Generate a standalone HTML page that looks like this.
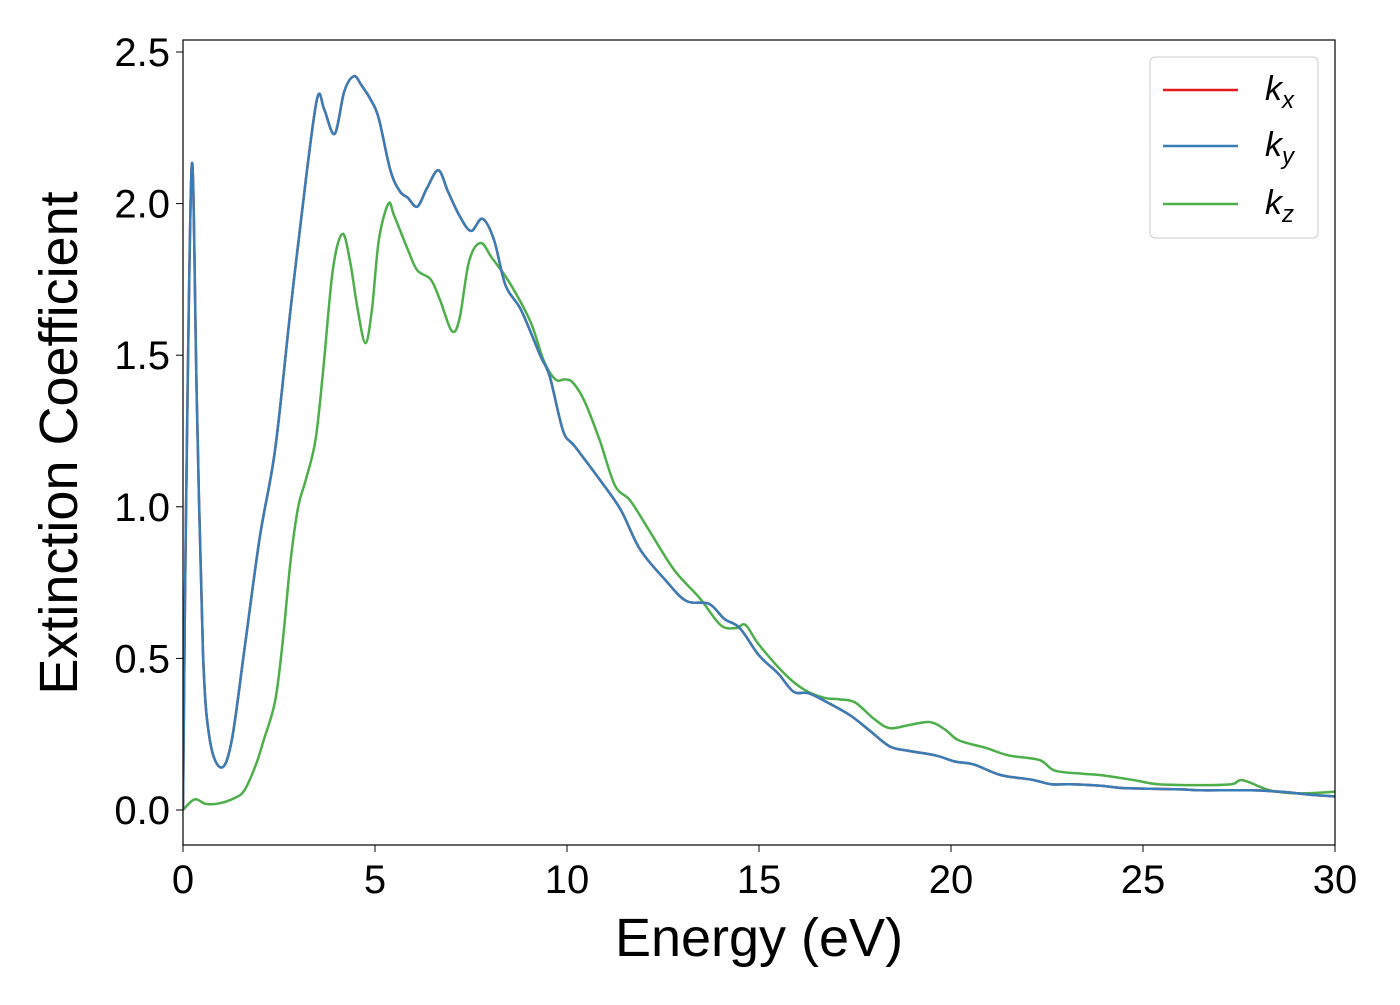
<!DOCTYPE html>
<html><head><meta charset="utf-8"><style>
body{margin:0;background:#fff}
svg{font-family:"Liberation Sans","DejaVu Sans",sans-serif}
</style></head><body>
<svg id="chart" width="1400" height="1000" xmlns="http://www.w3.org/2000/svg">
<defs><clipPath id="cp"><rect x="183" y="40" width="1152" height="805"/></clipPath></defs>
<g id="plot"></g>
</svg>
<script>
const xs1=[0,0.08,0.23,0.36,0.52,0.7,1.0,1.27,1.6,2.0,2.4,2.8,3.2,3.5,3.68,3.95,4.2,4.45,4.65,4.9,5.1,5.4,5.65,5.85,6.1,6.35,6.65,6.9,7.2,7.5,7.8,8.1,8.4,8.8,9.3,9.55,9.9,10.2,10.85,11.4,11.9,12.55,13.1,13.7,14.1,14.5,15.0,15.5,15.9,16.3,16.85,17.4,17.9,18.4,18.9,19.6,20.1,20.6,21.3,22.1,22.6,23.1,23.9,24.4,25.2,26,26.5,27.8,28.6,29.4,30];
const kxy=[0,1.0,2.13,1.35,0.52,0.23,0.14,0.23,0.53,0.9,1.19,1.65,2.08,2.35,2.31,2.23,2.37,2.42,2.39,2.34,2.28,2.11,2.04,2.02,1.99,2.05,2.11,2.04,1.96,1.91,1.95,1.88,1.73,1.65,1.5,1.43,1.25,1.2,1.09,0.99,0.86,0.76,0.69,0.68,0.63,0.6,0.51,0.45,0.39,0.385,0.35,0.31,0.26,0.21,0.195,0.18,0.16,0.15,0.115,0.1,0.085,0.085,0.08,0.073,0.07,0.068,0.065,0.065,0.06,0.05,0.045];
const xs2=[0,0.3,0.6,0.95,1.35,1.6,1.9,2.1,2.4,2.6,2.8,3.0,3.2,3.45,3.65,3.9,4.15,4.35,4.55,4.75,4.92,5.1,5.35,5.5,5.85,6.1,6.45,6.7,7.0,7.2,7.45,7.75,8.05,8.5,9.05,9.4,9.7,9.95,10.15,10.45,10.85,11.25,11.65,12.15,12.8,13.45,14,14.4,14.65,15.0,15.7,16.2,16.7,17.1,17.5,18.0,18.4,18.9,19.45,19.85,20.2,20.9,21.5,22.3,22.7,23.4,23.9,24.7,25.4,26.5,27.3,27.6,28.3,29.0,30];
const kz=[0,0.035,0.02,0.022,0.04,0.065,0.15,0.23,0.36,0.56,0.82,1.0,1.09,1.22,1.45,1.78,1.9,1.81,1.65,1.54,1.65,1.88,2.0,1.96,1.85,1.78,1.75,1.68,1.58,1.62,1.81,1.87,1.82,1.74,1.61,1.48,1.42,1.42,1.41,1.35,1.22,1.07,1.02,0.92,0.79,0.7,0.61,0.6,0.61,0.545,0.445,0.395,0.37,0.365,0.355,0.3,0.27,0.28,0.29,0.265,0.23,0.205,0.18,0.165,0.13,0.12,0.115,0.1,0.085,0.082,0.085,0.098,0.065,0.055,0.06];
const xTicks=[0,5,10,15,20,25,30];
const yTicks=[0.0,0.5,1.0,1.5,2.0,2.5];
const X=v=>183+v*38.4, Y=v=>810-v*303.2;
const NS="http://www.w3.org/2000/svg", g=document.getElementById('plot');
function mk(t,a,txt){const e=document.createElementNS(NS,t);for(const k in a)e.setAttribute(k,a[k]);if(txt!==undefined)e.textContent=txt;g.appendChild(e);return e;}
function path(xs,ys){const p=xs.map((x,i)=>[X(x),Y(ys[i])]);let d='M'+p[0][0]+','+p[0][1];
for(let i=0;i<p.length-1;i++){const p0=p[Math.max(0,i-1)],p1=p[i],p2=p[i+1],p3=p[Math.min(p.length-1,i+2)];
d+=' C'+(p1[0]+(p2[0]-p0[0])/6)+','+(p1[1]+(p2[1]-p0[1])/6)+' '+(p2[0]-(p3[0]-p1[0])/6)+','+(p2[1]-(p3[1]-p1[1])/6)+' '+p2[0]+','+p2[1];}return d;}
let e;
e=mk('path',{d:path(xs2,kz),fill:'none',stroke:'#4daf4a','stroke-width':2.5,'clip-path':'url(#cp)'});


e=mk('path',{d:path(xs1,kxy),fill:'none',stroke:'#e41a1c','stroke-width':2.5,'clip-path':'url(#cp)'});


e=mk('path',{d:path(xs1,kxy),fill:'none',stroke:'#377eb8','stroke-width':2.5,'clip-path':'url(#cp)'});


e=mk('rect',{x:183,y:40,width:1152,height:805,fill:'none',stroke:'#000','stroke-width':1.2});


xTicks.forEach(t=>{mk('line',{x1:X(t),x2:X(t),y1:845,y2:852,stroke:'#000'});
e=mk('text',{x:X(t),y:893,'font-size':40,'text-anchor':'middle'},String(t));

});
yTicks.forEach(t=>{mk('line',{x1:176,x2:183,y1:Y(t),y2:Y(t),stroke:'#000'});
e=mk('text',{x:170,y:Y(t)+14,'font-size':40,'text-anchor':'end'},t.toFixed(1));

});
e=mk('text',{x:759,y:956,'font-size':54,'text-anchor':'middle'},'Energy (eV)');


e=mk('text',{x:0,y:0,'font-size':54,'text-anchor':'middle',transform:'translate(77,443) rotate(-90)'},'Extinction Coefficient');


e=mk('rect',{x:1150,y:57,width:168,height:181,rx:5,fill:'#fff',stroke:'#ccc'});


const leg=[['x','#e41a1c',90],['y','#377eb8',146],['z','#4daf4a',204]];
leg.forEach(l=>{mk('line',{x1:1163,x2:1238,y1:l[2],y2:l[2],stroke:l[1],'stroke-width':2.5});
e=mk('text',{x:1265,y:l[2]+10,'font-size':34,'font-style':'italic'},'k');


const ts=document.createElementNS(NS,'tspan');ts.setAttribute('font-size','24');ts.setAttribute('dy','8');ts.textContent=l[0];e.appendChild(ts);});
</script>
</body></html>
